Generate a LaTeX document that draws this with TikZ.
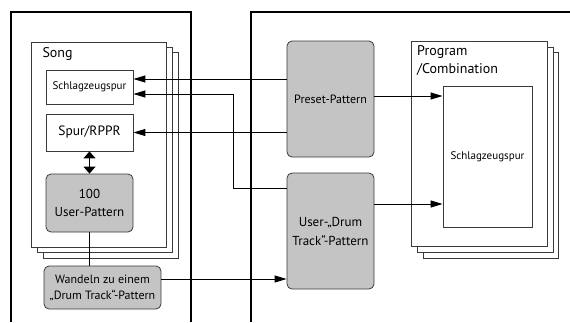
\documentclass[tikz,border=0pt]{standalone}
\usepackage{fontspec}
\setmainfont{PT Sans}
\usetikzlibrary{
  positioning,
  arrows.meta,
  calc
}
\definecolor{patgray}{HTML}{C4C4C4}
\definecolor{edgegray}{HTML}{3A3A3A}

\begin{document}
\begin{tikzpicture}[
  x=1pt, y=-1pt,
  trackbox/.style={draw=edgegray, line width=0.8pt, fill=white, inner sep=1pt,
               align=center},
  patbox/.style={draw=edgegray, line width=0.8pt, fill=patgray, rounded corners=5pt,
               inner sep=1pt, align=center},
  sheet/.style={draw=edgegray, line width=0.7pt, fill=white},
  panel/.style={draw=black, line width=1.2pt},
  arr/.style={-{Triangle[length=12pt,width=7pt]}, line width=0.9pt},
  dblarr/.style={{Triangle[length=7pt,width=12pt]}-{Triangle[length=7pt,width=12pt]}, line width=1.1pt},
]
  \useasboundingbox (0,0) rectangle (570,322);

  % panels
  \draw[panel] (11,322) -- (11,12) -- (191,12) -- (191,322);
  \draw[panel] (251,322) -- (251,12) -- (570,12);

  % song sheets
  \draw[sheet] (43,52) rectangle (178,258);
  \draw[sheet] (37,47) rectangle (172,252);
  \draw[sheet] (31,42) rectangle (166,247);
  \node[anchor=base west, font=\fontsize{14}{16}\selectfont] (song) at (39,57) {Song};

  % program sheets
  \draw[sheet] (423,52) rectangle (558,258);
  \draw[sheet] (417,47) rectangle (553,252);
  \draw[sheet] (411,41) rectangle (547,246);
  \node[anchor=north west, align=left, inner sep=0pt,
        font=\fontsize{14}{18}\selectfont] (prog) at (417,45) {Program\\/Combination};

  \node[trackbox, minimum width=87, minimum height=34,
        font=\fontsize{11}{12}\selectfont] (schlag) at (89.5,87) {Schlagzeugspur};
  \node[trackbox, minimum width=87, minimum height=37,
        font=\fontsize{13.5}{15}\selectfont] (spur) at (89.5,132.5) {Spur/RPPR};
  \node[patbox, minimum width=87, minimum height=58,
        font=\fontsize{13}{18}\selectfont] (upat) at (89.5,203) {100\\User-Pattern};
  \node[patbox, minimum width=117, minimum height=43,
        font=\fontsize{12}{16}\selectfont] (wandeln) at (102.5,287.5) {Wandeln zu einem\\\char"201E Drum Track\char"201C-Pattern};

  \node[patbox, minimum width=87, minimum height=116,
        font=\fontsize{12}{14}\selectfont] (preset) at (330.5,99) {Preset-Pattern};
  \node[patbox, minimum width=87, minimum height=116,
        font=\fontsize{13}{19}\selectfont] (udrum) at (330.5,231) {User-\char"201E Drum\\Track\char"201C-Pattern};

  \node[trackbox, minimum width=89, minimum height=141,
        font=\fontsize{11}{12}\selectfont] (inner) at (487.5,156.5) {Schlagzeugspur};

  % connectors
  \coordinate (schlagA) at ([yshift=8pt]schlag.east);
  \coordinate (schlagB) at ([yshift=-7pt]schlag.east);
  \draw[arr] (preset.west |- schlagA) -- (schlagA);
  \draw[arr] ([yshift=43pt]udrum.west) -- ++(-53,0) |- (schlagB);
  \draw[arr] (preset.west |- spur.east) -- (spur.east);
  \draw[dblarr] (spur.south) -- (upat.north);
  \draw[line width=0.9pt] (upat.south) -- (upat.south |- wandeln.north);
  \coordinate (wandA) at ([yshift=8.5pt]wandeln.east);
  \draw[arr] (wandA) -- (udrum.west |- wandA);

  \coordinate (presA) at ([yshift=3pt]preset.east);
  \coordinate (udrA) at ([yshift=27pt]udrum.east);
  \draw[arr] (presA) -- (inner.west |- presA);
  \draw[arr] (udrA) -- (inner.west |- udrA);
\end{tikzpicture}
\end{document}
